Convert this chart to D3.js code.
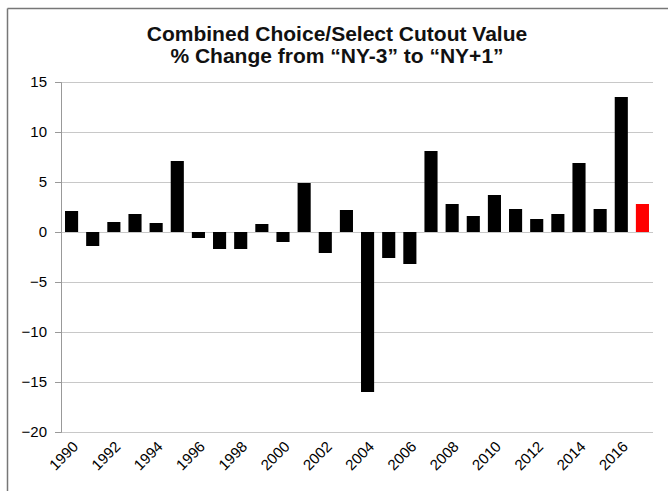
<!DOCTYPE html>
<html>
<head>
<meta charset="utf-8">
<script src="https://cdn.jsdelivr.net/npm/d3@7"></script>
<style>
  body { margin: 0; background: #fff; }
  text { font-family: "Liberation Sans", Arial, sans-serif; }
</style>
</head>
<body>
<svg id="chart" width="668" height="491"></svg>
<script>

////////////////////////// DATA //////////////////////////

const years = d3.range(1990, 2018)
const values = [2.1, -1.4, 1.0, 1.8, 0.9, 7.1, -0.6, -1.7, -1.7, 0.8, -1.0, 4.9, -2.1,
  2.2, -16.0, -2.6, -3.2, 8.1, 2.8, 1.6, 3.7, 2.3, 1.3, 1.8, 6.9, 2.3, 13.5, 2.8]
const highlightYear = 2017
const yTicks = [-20, -15, -10, -5, 0, 5, 10, 15]
const xTickYears = d3.range(1990, 2017, 2)
const titleLines = ['Combined Choice/Select Cutout Value', '% Change from \u201cNY-3\u201d to \u201cNY+1\u201d']

////////////////////////// SETUP //////////////////////////

const svg = d3.select('#chart')
const margin = { left: 61, right: 15, top: 82, bottom: 59 }
const width = 668 - margin.left - margin.right
const height = 491 - margin.top - margin.bottom

const data = years.map((y, i) => ({ year: y, value: values[i] }))

const xScale = d3.scaleBand()
  .domain(years)
  .range([0, width])
  .paddingInner(0.38)
  .paddingOuter(0.19)

const yScale = d3.scaleLinear()
  .domain([-20, 15])
  .range([height, 0])

// frame (only top and left edges are visible in the original)
svg.append('line')
  .attr('x1', 7.5).attr('x2', 668).attr('y1', 8.5).attr('y2', 8.5)
  .attr('stroke', '#777').attr('stroke-width', 1.5)
svg.append('line')
  .attr('x1', 7.5).attr('x2', 7.5).attr('y1', 8.5).attr('y2', 491)
  .attr('stroke', '#777').attr('stroke-width', 1.5)

// title
svg.append('g')
  .selectAll('text')
  .data(titleLines)
  .enter()
  .append('text')
  .attr('x', 337)
  .attr('y', (d, i) => 41 + i * 22)
  .attr('text-anchor', 'middle')
  .style('font-size', '21px')
  .style('font-weight', 'bold')
  .style('fill', '#111')
  .text((d) => d)

const g = svg.append('g')
  .attr('transform', `translate(${margin.left},${margin.top})`)

////////////////////////// CALL COMPONENTS //////////////////////////

// grid
g.append('g')
  .call(d3.axisLeft(yScale).tickValues(yTicks).tickSize(-width).tickFormat(''))
  .call((s) => s.select('.domain').remove())
  .selectAll('line')
  .attr('stroke', '#c8c8c8')

// y axis
const yAxisG = g.append('g')
  .call(d3.axisLeft(yScale).tickValues(yTicks).tickSize(6).tickPadding(8))
yAxisG.select('.domain').attr('stroke', '#999')
yAxisG.selectAll('line').attr('stroke', '#999')
yAxisG.selectAll('text')
  .style('font-size', '15px')
  .attr('fill', '#000')

// bars
g.selectAll('.bar')
  .data(data)
  .enter()
  .append('rect')
  .attr('class', 'bar')
  .attr('x', (d) => xScale(d.year))
  .attr('y', (d) => yScale(Math.max(0, d.value)))
  .attr('width', xScale.bandwidth())
  .attr('height', (d) => Math.abs(yScale(d.value) - yScale(0)))
  .style('fill', (d) => d.year === highlightYear ? '#ff0000' : '#000')

// x labels, rotated (group per label, text anchored at its end)
const xLabels = g.append('g')
  .selectAll('g')
  .data(xTickYears)
  .enter()
  .append('g')
  .attr('transform', (d) => `translate(${xScale(d) + xScale.bandwidth() / 2 + 4},${height + 12})`)

xLabels.append('text')
  .attr('transform', 'rotate(-45)')
  .attr('text-anchor', 'end')
  .attr('y', 5)
  .style('font-size', '15px')
  .text((d) => d)

</script>
</body>
</html>
